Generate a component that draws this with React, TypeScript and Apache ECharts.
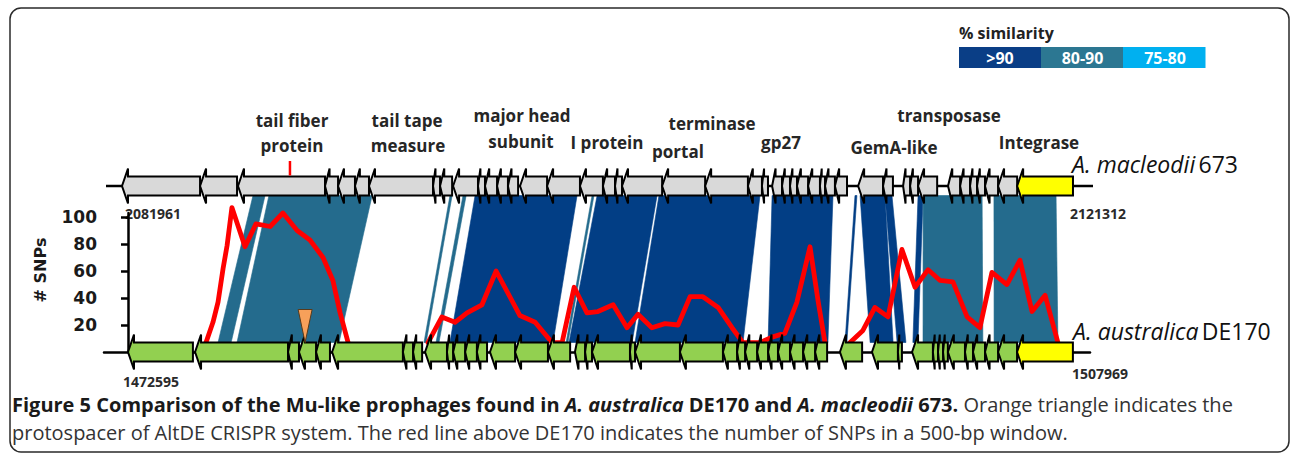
import React, { useEffect, useRef } from 'react';
import * as echarts from 'echarts';

// ---------------- DATA ----------------
const TOP_START = 2081961;
const TOP_END = 2121312;
const BOT_START = 1472595;
const BOT_END = 1507969;
const TOP_LEN_KB = (TOP_END - TOP_START) / 1000;
const BOT_LEN_KB = (BOT_END - BOT_START) / 1000;

// genes: [start kb, end kb, kind (0 = ORF, 1 = integrase)]
const TOP_GENES: number[][] = [
  [0, 3.23, 0], [3.23, 4.76, 0], [4.8, 8.4, 0], [8.4, 8.94, 0], [8.94, 9.64, 0], [9.64, 10.22, 0],
  [10.22, 12.87, 0], [12.87, 13.16, 0], [13.16, 13.66, 0], [13.7, 14.73, 0], [14.73, 15.02, 0],
  [15.02, 15.52, 0], [15.52, 15.97, 0], [15.97, 16.39, 0], [16.47, 17.59, 0], [17.59, 18.95, 0],
  [18.95, 19.9, 0], [19.9, 20.4, 0], [20.4, 20.69, 0], [20.69, 22.35, 0], [22.35, 24.13, 0],
  [24.13, 25.9, 0], [25.9, 26.48, 0], [26.48, 26.73, 0], [26.9, 27.31, 0], [27.31, 27.64, 0],
  [27.64, 27.93, 0], [27.93, 28.39, 0], [28.39, 28.88, 0], [28.88, 29.09, 0], [29.09, 29.5, 0],
  [29.5, 30.0, 0], [30.46, 31.49, 0], [31.49, 31.9, 0], [32.32, 32.61, 0], [32.61, 32.94, 0],
  [32.94, 33.73, 0], [34.18, 34.68, 0], [34.68, 35.09, 0], [35.09, 35.38, 0], [35.38, 35.71, 0],
  [35.71, 36.25, 0], [36.25, 37.04, 0], [37.04, 39.35, 1],
];

const BOT_GENES: number[][] = [
  [0, 2.43, 0], [2.51, 5.99, 0], [5.99, 6.4, 0], [6.4, 7.04, 0], [7.04, 7.56, 0], [7.64, 10.29, 0],
  [10.29, 10.67, 0], [10.67, 11.01, 0], [11.12, 11.94, 0], [11.94, 12.17, 0], [12.17, 12.62, 0],
  [12.62, 13.06, 0], [13.06, 13.44, 0], [13.55, 14.49, 0], [14.49, 15.72, 0], [15.72, 16.55, 0],
  [16.73, 17.11, 0], [17.11, 17.37, 0], [17.37, 18.79, 0], [18.79, 18.98, 0], [18.98, 20.66, 0],
  [20.66, 22.27, 0], [22.27, 22.8, 0], [22.8, 23.1, 0], [23.1, 23.55, 0], [23.55, 23.96, 0],
  [23.96, 24.33, 0], [24.33, 24.78, 0], [24.78, 25.27, 0], [25.27, 25.72, 0], [25.72, 26.17, 0],
  [26.65, 27.48, 0], [27.85, 28.82, 0], [28.82, 28.97, 0], [29.35, 30.13, 0], [30.13, 30.32, 0],
  [30.32, 30.51, 0], [30.51, 30.69, 0], [30.69, 31.33, 0], [31.33, 31.63, 0], [31.63, 32.08, 0],
  [32.08, 32.57, 0], [32.57, 33.28, 0], [33.28, 35.37, 1],
];

// similarity blocks: [top start kb, top end kb, bottom start kb, bottom end kb, class (0 >90, 1 80-90, 2 75-80)]
const BANDS: number[][] = [
  [5.42, 5.92, 3.37, 3.86, 1],
  [6.08, 10.35, 4.08, 7.9, 1],
  [13.57, 13.66, 11.08, 11.16, 1],
  [14.11, 14.24, 11.53, 11.64, 1],
  [14.61, 18.83, 12.05, 15.91, 0],
  [19.45, 19.53, 16.4, 16.47, 1],
  [19.66, 22.14, 16.51, 18.87, 0],
  [22.22, 26.4, 18.98, 23.02, 0],
  [26.9, 29.42, 23.96, 26.2, 0],
  [30.33, 30.41, 26.84, 26.91, 0],
  [30.54, 31.57, 27.78, 28.64, 0],
  [31.57, 31.86, 28.79, 29.12, 0],
  [32.94, 33.15, 29.38, 29.57, 0],
  [33.15, 35.59, 29.76, 32.0, 1],
  [36.08, 38.65, 32.42, 34.81, 1],
];

// SNPs per 500-bp window along DE170: [kb, count]
const SNP_SEG1: number[][] = [
  [2.92, 7], [3.18, 22], [3.37, 37], [3.56, 62], [3.71, 79], [3.89, 107], [4.38, 78], [4.79, 95],
  [5.32, 93], [5.8, 103], [6.33, 90], [6.81, 83], [7.3, 70], [7.67, 53], [7.94, 29], [8.24, 7],
];
const SNP_SEG2: number[][] = [
  [11.23, 7], [11.75, 26], [12.24, 22], [12.69, 29], [13.25, 35], [13.78, 60], [14.67, 27], [15.24, 22],
  [15.87, 7], [16.25, 7], [16.7, 48], [17.18, 29], [17.59, 30], [18.16, 35], [18.68, 18], [19.09, 28],
  [19.61, 18], [20.1, 21], [20.59, 20], [21.04, 41], [21.52, 41], [22.09, 33], [22.61, 18], [23.02, 7],
  [23.66, 7], [24.11, 11], [24.59, 14], [25.04, 37], [25.53, 78], [25.83, 38], [26.09, 7],
];
const SNP_SEG3: number[][] = [
  [27.03, 7], [27.51, 16], [27.96, 33], [28.45, 26], [28.97, 76], [29.46, 48], [29.95, 61], [30.4, 53],
  [30.88, 52], [31.41, 26], [31.89, 18], [32.34, 59], [32.9, 50], [33.39, 68], [33.84, 30], [34.33, 42],
  [34.81, 7],
];

const PROTOSPACER_KB = [6.63]; // on DE170
const TAIL_FIBER_MARK_KB = [6.95]; // on 673
const SNP_TICKS = [20, 40, 60, 80, 100];
const SIM_CLASSES = ['>90', '80-90', '75-80'];

const GENE_NAMES = [
  'tail fiber', 'protein', 'tail tape', 'measure', 'major head', 'subunit', 'I protein',
  'terminase', 'portal', 'gp27', 'GemA-like', 'transposase', 'Integrase',
];

const CAPTION_LINE1: [string, string][] = [
  ['b', 'Figure 5 Comparison of the Mu-like prophages found in '],
  ['bi', 'A. australica'],
  ['b', ' DE170 and '],
  ['bi', 'A. macleodii'],
  ['b', ' 673.'],
  ['n', ' Orange triangle indicates the'],
];
const CAPTION_LINE2 = 'protospacer of AltDE CRISPR system. The red line above DE170 indicates the number of SNPs in a 500-bp window.';

// ---------------- LAYOUT / STYLE ----------------
const PLOT_LEFT = 104;
const PLOT_RIGHT = 1090;
const TOP_PX = [122, 1073];
const BOT_PX = [128, 1073];
const BOX_H = 9.5;
const FLANGE = 17.5;
const BAND_COLORS = ['#023e85', '#246b8d', '#00b0f0'];
const LEGEND_COLORS = ['#0a3e86', '#2c7792', '#00b0f0'];
const LABEL_POS: number[][] = [
  [292, 120], [292, 145], [407, 120], [408, 145], [522, 115], [521, 141], [607, 142],
  [712, 123], [678, 151], [781, 142], [894, 147], [949, 115], [1039, 142],
];
const FONT = '"Open Sans", "Noto Sans", sans-serif';
const CAP_SIZE = 20;
const CAP_X0 = 12;
const CAP_LINE1_END = 1233;

function axisRange(lenKb: number, px: number[]) {
  const s = (px[1] - px[0]) / lenKb;
  return { min: -(px[0] - PLOT_LEFT) / s, max: (PLOT_RIGHT - px[0]) / s };
}

function geneRenderer(baseFill: string) {
  return (_params: any, api: any) => {
    const s = api.value(0);
    const e = api.value(1);
    const kind = api.value(2);
    const p0 = api.coord([s, api.value(3)]);
    const p1 = api.coord([e, api.value(3)]);
    const x0 = p0[0];
    const x1 = p1[0];
    const yc = p0[1];
    const hl = Math.min(6, (x1 - x0) * 0.35);
    const points = [
      [x0, yc], [x0 + hl, yc - FLANGE], [x0 + hl, yc - BOX_H], [x1, yc - BOX_H],
      [x1, yc + BOX_H], [x0 + hl, yc + BOX_H], [x0 + hl, yc + FLANGE],
    ];
    return {
      type: 'polygon',
      shape: { points },
      style: { fill: kind === 1 ? '#ffff00' : baseFill, stroke: '#000', lineWidth: 2, lineJoin: 'miter' },
    };
  };
}

function measure(ctx: CanvasRenderingContext2D | null, text: string, font: string, fallbackPerChar: number) {
  if (!ctx) return text.length * fallbackPerChar;
  ctx.font = font;
  return ctx.measureText(text).width;
}

function buildOption(): any {
  const topR = axisRange(TOP_LEN_KB, TOP_PX);
  const botR = axisRange(BOT_LEN_KB, BOT_PX);

  // caption: condensed, one common horizontal scale
  const canvas = document.createElement('canvas');
  const ctx = canvas.getContext('2d');
  const fonts: Record<string, string> = {
    b: `normal bold ${CAP_SIZE}px "Open Sans"`,
    bi: `italic bold ${CAP_SIZE}px "Open Sans"`,
    n: `normal normal ${CAP_SIZE}px "Open Sans"`,
  };
  let w1 = 0;
  CAPTION_LINE1.forEach(([k, t]) => { w1 += measure(ctx, t, fonts[k], k === 'n' ? 10.5 : 11.5); });
  const capScale = (CAP_LINE1_END - CAP_X0) / w1;
  const capRich = {
    b: { fontFamily: 'Open Sans', fontSize: CAP_SIZE, fontWeight: 'bold', fill: '#1a1a1a' },
    bi: { fontFamily: 'Open Sans', fontSize: CAP_SIZE, fontWeight: 'bold', fontStyle: 'italic', fill: '#1a1a1a' },
    n: { fontFamily: 'Open Sans', fontSize: CAP_SIZE, fontWeight: 'normal', fill: '#333' },
  };

  const speciesRich = {
    i: { fontFamily: FONT, fontSize: 23, fontStyle: 'italic', fontWeight: 'normal', fill: '#111' },
    n: { fontFamily: FONT, fontSize: 23, fontWeight: 'normal', fill: '#111' },
  };

  const graphic: any[] = [
    {
      type: 'rect', z: 0, silent: true,
      shape: { x: 10, y: 8, width: 1279, height: 444, r: 11 },
      style: { fill: 'none', stroke: '#2a2a2a', lineWidth: 1.5 },
    },
    // legend
    {
      type: 'text', x: 959, y: 33,
      style: { text: '% similarity', fontFamily: FONT, fontSize: 16, fontWeight: 'bold', fill: '#222', verticalAlign: 'middle', textVerticalAlign: 'middle' },
    },
    ...SIM_CLASSES.map((c, i) => ({
      type: 'rect',
      shape: { x: 959 + i * 82, y: 47, width: 82.5, height: 21 },
      style: { fill: LEGEND_COLORS[i] },
    })),
    ...SIM_CLASSES.map((c, i) => ({
      type: 'text', x: 1000 + i * 82.5, y: 57.5,
      style: { text: c, fontFamily: FONT, fontSize: 16, fontWeight: 'bold', fill: '#fff', align: 'center', verticalAlign: 'middle', textAlign: 'center', textVerticalAlign: 'middle' },
    })),
    // gene names
    ...GENE_NAMES.map((g, i) => ({
      type: 'text', x: LABEL_POS[i][0], y: LABEL_POS[i][1],
      style: { text: g, fontFamily: FONT, fontSize: 17, fontWeight: 'bold', fill: '#262626', align: 'center', verticalAlign: 'middle', textAlign: 'center', textVerticalAlign: 'middle' },
    })),
    // species
    {
      type: 'text', x: 1072, y: 164,
      style: { text: '{i|A. macleodii} {n|673}', verticalAlign: 'middle', textVerticalAlign: 'middle', rich: speciesRich },
    },
    {
      type: 'text', x: 1073, y: 331,
      style: { text: '{i|A. australica} {n|DE170}', verticalAlign: 'middle', textVerticalAlign: 'middle', rich: speciesRich },
    },
    // genome coordinates
    ...[
      [String(TOP_START), 125, 213], [String(TOP_END), 1070, 213],
      [String(BOT_START), 123, 381], [String(BOT_END), 1072, 373],
    ].map(([t, x, y]) => ({
      type: 'text', x, y,
      style: { text: t, fontFamily: FONT, fontSize: 14, fontWeight: 'bold', fill: '#2a2a2a', verticalAlign: 'middle', textVerticalAlign: 'middle' },
    })),
    // y axis title
    {
      type: 'text', x: 40, y: 270, rotation: Math.PI / 2,
      style: { text: '# SNPs', fontFamily: 'DejaVu Sans', fontSize: 16, fontWeight: 'bold', fill: '#1a1a1a', align: 'center', verticalAlign: 'middle', textAlign: 'center', textVerticalAlign: 'middle' },
    },
    // caption
    {
      type: 'text', x: CAP_X0, y: 404, scaleX: capScale,
      style: {
        text: CAPTION_LINE1.map(([k, t]) => `{${k}|${t}}`).join(''),
        rich: capRich, verticalAlign: 'middle', textVerticalAlign: 'middle',
      },
    },
    {
      type: 'text', x: CAP_X0, y: 432, scaleX: capScale,
      style: { text: `{n|${CAPTION_LINE2}}`, rich: capRich, verticalAlign: 'middle', textVerticalAlign: 'middle' },
    },
  ];

  const lineStyleCommon = {
    type: 'line', xAxisIndex: 0, yAxisIndex: 0, showSymbol: false, symbol: 'none', clip: false, z: 2,
    lineStyle: { color: '#ff0000', width: 4.8, join: 'round', cap: 'round' },
  };

  return {
    animation: false,
    backgroundColor: '#ffffff',
    grid: [
      { left: PLOT_LEFT, width: PLOT_RIGHT - PLOT_LEFT, top: 213, height: 139 },
      { left: PLOT_LEFT, width: PLOT_RIGHT - PLOT_LEFT, top: 186, height: 166 },
    ],
    xAxis: [
      {
        type: 'value', gridIndex: 0, min: botR.min, max: botR.max,
        axisLine: { show: true, onZero: false, lineStyle: { color: '#000', width: 2.5 } },
        axisTick: { show: false }, axisLabel: { show: false }, splitLine: { show: false },
      },
      { type: 'value', gridIndex: 1, min: topR.min, max: topR.max, show: false, splitLine: { show: false } },
      { type: 'value', gridIndex: 1, min: botR.min, max: botR.max, show: false, splitLine: { show: false } },
    ],
    yAxis: [
      {
        type: 'value', gridIndex: 0, min: 0, max: 103, interval: 20,
        axisLine: { show: true, lineStyle: { color: '#000', width: 2.5 } },
        axisTick: { show: true, length: 7, customValues: SNP_TICKS, lineStyle: { color: '#000', width: 2.5 } },
        axisLabel: {
          show: true, margin: 7, customValues: SNP_TICKS,
          formatter: (v: number) => (v === 0 ? '' : String(v)),
          fontFamily: 'DejaVu Sans', fontWeight: 'bold', fontSize: 17, color: '#1a1a1a',
        },
        splitLine: { show: false },
      },
      { type: 'value', gridIndex: 1, min: 0, max: 1, show: false, splitLine: { show: false } },
    ],
    graphic,
    series: [
      { ...lineStyleCommon, name: 'snp1', data: SNP_SEG1 },
      { ...lineStyleCommon, name: 'snp2', data: SNP_SEG2 },
      { ...lineStyleCommon, name: 'snp3', data: SNP_SEG3 },
      {
        type: 'custom', name: 'topBackbone', xAxisIndex: 1, yAxisIndex: 1, z: 2, clip: false,
        data: [[0, TOP_LEN_KB, 1]],
        renderItem: (_p: any, api: any) => {
          const a = api.coord([api.value(0), api.value(2)]);
          const b = api.coord([api.value(1), api.value(2)]);
          return {
            type: 'line',
            shape: { x1: a[0] - 16, y1: a[1], x2: b[0] + 20, y2: b[1] },
            style: { stroke: '#000', lineWidth: 2.5 },
          };
        },
      },
      {
        type: 'custom', name: 'topGenes', xAxisIndex: 1, yAxisIndex: 1, z: 3, clip: false,
        data: TOP_GENES.map((g) => [g[0], g[1], g[2], 1]),
        renderItem: geneRenderer('#d9d9d9'),
      },
      {
        type: 'custom', name: 'botGenes', xAxisIndex: 2, yAxisIndex: 1, z: 3, clip: false,
        data: BOT_GENES.map((g) => [g[0], g[1], g[2], 0]),
        renderItem: geneRenderer('#92d050'),
      },
      {
        type: 'custom', name: 'tailFiberMark', xAxisIndex: 1, yAxisIndex: 1, z: 4, clip: false,
        data: TAIL_FIBER_MARK_KB.map((v) => [v, 1]),
        renderItem: (_p: any, api: any) => {
          const p = api.coord([api.value(0), api.value(1)]);
          return {
            type: 'line',
            shape: { x1: p[0], y1: p[1] - 25, x2: p[0], y2: p[1] - BOX_H - 1 },
            style: { stroke: '#ff0000', lineWidth: 2.5 },
          };
        },
      },
      {
        type: 'custom', name: 'protospacer', xAxisIndex: 2, yAxisIndex: 1, z: 4, clip: false,
        data: PROTOSPACER_KB.map((v) => [v, 0]),
        renderItem: (_p: any, api: any) => {
          const p = api.coord([api.value(0), api.value(1)]);
          const tipY = p[1] - BOX_H;
          return {
            type: 'polygon',
            shape: { points: [[p[0], tipY], [p[0] - 7, tipY - 33], [p[0] + 7, tipY - 33]] },
            style: { fill: '#f7a05a', stroke: '#5a3a1a', lineWidth: 1 },
          };
        },
      },
    ],
  };
}

export default function App() {
  const ref = useRef<HTMLDivElement>(null);
  useEffect(() => {
    const el = ref.current;
    if (!el) return;
    const chart = echarts.init(el, null, { renderer: 'svg' });
    const option = buildOption();
    chart.setOption(option);
    const tx = (v: number) => chart.convertToPixel({ xAxisIndex: 1 } as any, v) as unknown as number;
    const bx = (v: number) => chart.convertToPixel({ xAxisIndex: 2 } as any, v) as unknown as number;
    const yTop = (chart.convertToPixel({ yAxisIndex: 1 } as any, 1) as unknown as number) + BOX_H;
    const yBot = (chart.convertToPixel({ yAxisIndex: 1 } as any, 0) as unknown as number) - BOX_H;
    const bandData = BANDS.map((b) => [tx(b[0]), tx(b[1]), bx(b[3]), bx(b[2]), b[4]]);
    option.series.push({
      type: 'custom', name: 'similarity', coordinateSystem: 'none', z: 1, silent: true,
      data: bandData,
      renderItem: (_p: any, api: any) => {
        const cls = api.value(4);
        return {
          type: 'polygon',
          shape: {
            points: [
              [api.value(0), yTop], [api.value(1), yTop],
              [api.value(2), yBot], [api.value(3), yBot],
            ],
          },
          style: { fill: BAND_COLORS[cls], stroke: BAND_COLORS[cls], lineWidth: 0.6 },
        };
      },
    });
    chart.setOption(option, true);
    return () => chart.dispose();
  }, []);
  return <div ref={ref} style={{ position: 'fixed', left: 0, top: 0, width: 1290, height: 456 }} />;
}
